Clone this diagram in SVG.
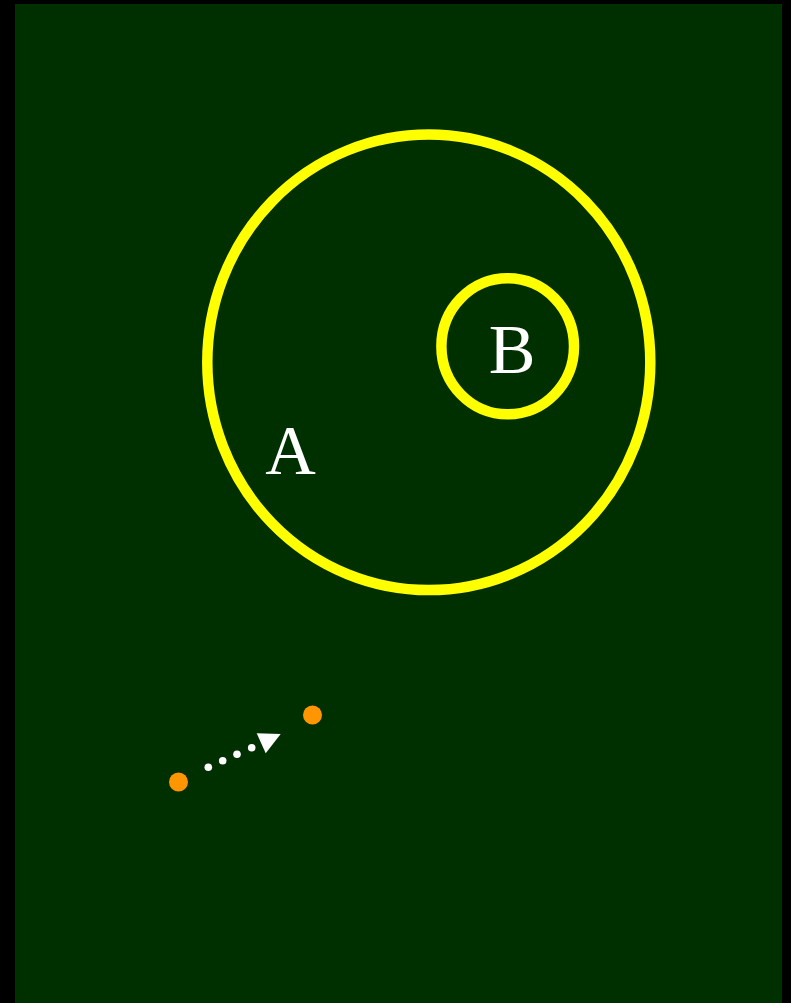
<svg xmlns="http://www.w3.org/2000/svg" width="791" height="1003" viewBox="0 0 791 1003">
<style>
.ring{fill:none;stroke:#ffff00;stroke-width:10.5}
.lbl{font-family:"Liberation Serif","Times New Roman",serif;font-size:70px;fill:#ffffff;text-anchor:middle}
.pt{fill:#ff9500}
</style>
<rect x="0" y="0" width="791" height="1003" fill="#000000"/>
<rect x="15" y="4" width="767" height="999" fill="#003000"/>
<g id="nodeA">
<ellipse class="ring" cx="428.8" cy="362.3" rx="221.5" ry="227.8"/>
<text class="lbl" x="290.5" y="473.5">A</text>
</g>
<g id="nodeB">
<ellipse class="ring" cx="507.7" cy="346.3" rx="66.3" ry="68"/>
<text class="lbl" x="512" y="373">B</text>
</g>
<g id="p1"><circle class="pt" cx="178.5" cy="782" r="9.5"/></g>
<g id="p2"><circle class="pt" cx="312.5" cy="715" r="9.5"/></g>
<g id="connectors">
<g fill="#ffffff">
<circle cx="208.3" cy="767.3" r="3.8"/>
<circle cx="222.7" cy="760.7" r="3.8"/>
<circle cx="237" cy="754.3" r="3.8"/>
<circle cx="251.7" cy="747.7" r="3.8"/>
<polygon points="256.7,733.3 280.7,734 265.7,753.3"/>
</g>
</g>
</svg>
